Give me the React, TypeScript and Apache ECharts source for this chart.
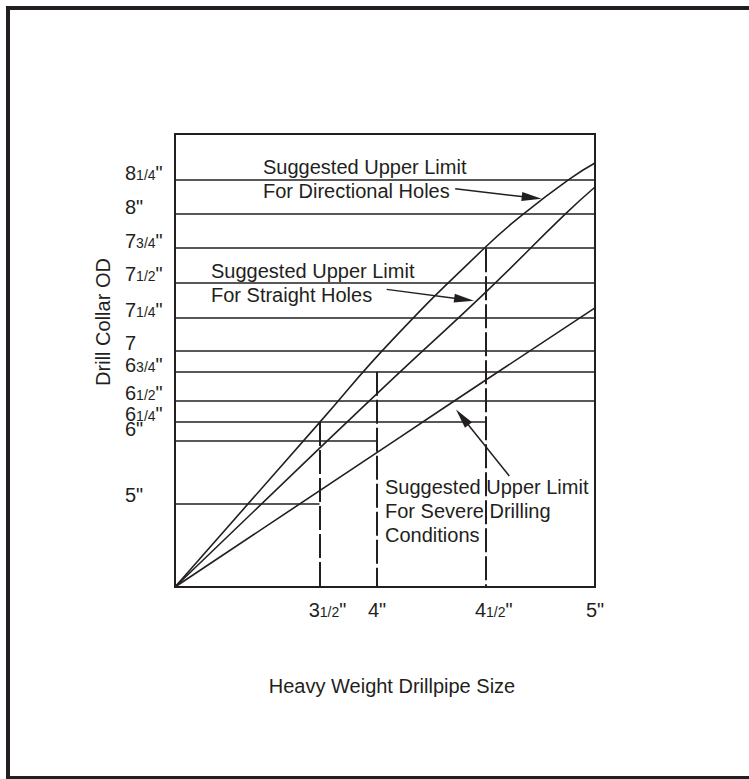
import React, { useEffect, useRef } from 'react';
import * as echarts from 'echarts';

// Schematic chart: axis positions are given in percent of the axis length (0..100)
const xTickLabels = ['3 1/2"', '4"', '4 1/2"', '5"'];
const xTickValues = [34.4, 48.1, 74.0, 100];

const yLineLabels = ['8 1/4"', '8"', '7 3/4"', '7 1/2"', '7 1/4"', '7', '6 3/4"', '6 1/2"', '6 1/4"', '6"', '5"'];
const yLineValues = [89.8, 82.3, 74.8, 67.2, 59.5, 52.1, 47.5, 41.1, 36.4, 32.2, 18.3];
const yLineEnds = [100, 100, 100, 100, 100, 100, 100, 100, 74.0, 48.1, 34.4];
const yLabelValues = [91.5, 83.9, 76.4, 69.1, 61.1, 53.8, 49.1, 42.8, 38.3, 34.8, 20.3];

const dashX = [34.4, 48.1, 74.0];
const dashTop = [36.4, 47.5, 74.8];

const directionalX = [0, 34.5, 51.7, 74.0, 83.3, 94.0, 100];
const directionalY = [0, 36.4, 54.5, 75.1, 82.6, 90.1, 93.6];
const straightX = [0, 34.5, 53.6, 74.0, 92.9, 100];
const straightY = [0, 30.7, 47.5, 65.1, 82.3, 88.3];
const severeX = [0, 53.6, 74.0, 100];
const severeY = [0, 33.1, 45.7, 61.6];

const arrowFrom = [[66.7, 87.9], [50.4, 65.7], [79.6, 24.5]];
const arrowTo = [[87.3, 85.7], [71.2, 63.2], [66.9, 39.2]];

const noteTexts = [
  'Suggested Upper Limit\nFor Directional Holes',
  'Suggested Upper Limit\nFor Straight Holes',
  'Suggested Upper Limit\nFor Severe Drilling\nConditions',
];

const xTitle = 'Heavy Weight Drillpipe Size';
const yTitle = 'Drill Collar OD';

const INK = '#231f20';
const FONT = '"Liberation Sans", Arial, Helvetica, sans-serif';

function richLabel(label: string, spacer: boolean): string {
  const inch = label.endsWith('"');
  const core = inch ? label.slice(0, -1) : label;
  const [whole, frac] = core.split(' ');
  let s = '';
  if (spacer && frac) s += '{s|}';
  s += `{a|${whole}}`;
  if (frac) s += `{b|${frac}}`;
  if (inch) s += '{c|"}';
  return s;
}

const rich = {
  s: { width: 16, fontSize: 20, lineHeight: 18 },
  a: { fontSize: 20, lineHeight: 18, color: INK, fontFamily: FONT },
  b: { fontSize: 14, lineHeight: 18, verticalAlign: 'bottom', color: INK, fontFamily: FONT },
  c: { fontSize: 20, lineHeight: 18, color: INK, fontFamily: FONT },
};

const pair = (xs: number[], ys: number[]) => xs.map((x, i) => [x, ys[i]]);

export default function App() {
  const ref = useRef<HTMLDivElement>(null);
  useEffect(() => {
    if (!ref.current) return;
    const chart = echarts.init(ref.current, null, { renderer: 'svg' });
    const curveStyle = { color: INK, width: 1.6 };
    const option: any = {
      animation: false,
      backgroundColor: '#ffffff',
      grid: {
        left: 175, top: 134, width: 420, height: 453,
        show: true, borderColor: INK, borderWidth: 2, backgroundColor: 'transparent',
      },
      xAxis: {
        type: 'value', min: 0, max: 100,
        axisLine: { show: false }, axisTick: { show: false }, splitLine: { show: false },
        axisLabel: {
          customValues: xTickValues,
          margin: 14,
          formatter: (v: number) => {
            const i = xTickValues.findIndex((t) => Math.abs(t - v) < 0.01);
            return i < 0 ? '' : richLabel(xTickLabels[i], true);
          },
          rich,
        },
      },
      yAxis: {
        type: 'value', min: 0, max: 100,
        axisLine: { show: false }, axisTick: { show: false }, splitLine: { show: false },
        axisLabel: {
          customValues: yLabelValues,
          margin: 50,
          align: 'left',
          verticalAlign: 'middle',
          formatter: (v: number) => {
            const i = yLabelValues.findIndex((t) => Math.abs(t - v) < 0.01);
            return i < 0 ? '' : richLabel(yLineLabels[i], false);
          },
          rich,
        },
      },
      series: [
        {
          type: 'lines', coordinateSystem: 'cartesian2d', silent: true,
          symbol: 'none',
          lineStyle: { color: INK, width: 1.5, opacity: 1, curveness: 0 },
          data: yLineValues.map((v, i) => ({ coords: [[0, v], [yLineEnds[i], v]] })),
        },
        {
          type: 'lines', coordinateSystem: 'cartesian2d', silent: true,
          symbol: 'none',
          lineStyle: { color: INK, width: 2, opacity: 1, curveness: 0, type: [24, 4] },
          data: dashX.map((x, i) => ({ coords: [[x, dashTop[i]], [x, 0]] })),
        },
        { type: 'line', data: pair(directionalX, directionalY), smooth: 0.5, showSymbol: false, symbol: 'none', lineStyle: curveStyle, silent: true },
        { type: 'line', data: pair(straightX, straightY), smooth: 0.5, showSymbol: false, symbol: 'none', lineStyle: curveStyle, silent: true },
        { type: 'line', data: pair(severeX, severeY), smooth: 0.5, showSymbol: false, symbol: 'none', lineStyle: curveStyle, silent: true },
        {
          type: 'custom', silent: true,
          encode: { x: [0, 2], y: [1, 3] },
          data: arrowFrom.map((f, i) => [f[0], f[1], arrowTo[i][0], arrowTo[i][1]]),
          renderItem: (params: any, api: any) => {
            const p1 = api.coord([api.value(0), api.value(1)]);
            const p2 = api.coord([api.value(2), api.value(3)]);
            const dx = p2[0] - p1[0];
            const dy = p2[1] - p1[1];
            const len = Math.hypot(dx, dy);
            const ux = dx / len, uy = dy / len;
            const hl = 20, hw = 4.5;
            const bx = p2[0] - ux * hl, by = p2[1] - uy * hl;
            return {
              type: 'group',
              children: [
                { type: 'line', shape: { x1: p1[0], y1: p1[1], x2: bx + ux * 2, y2: by + uy * 2 }, style: { stroke: INK, lineWidth: 1.5 } },
                { type: 'polygon', shape: { points: [[p2[0], p2[1]], [bx - uy * hw, by + ux * hw], [bx + uy * hw, by - ux * hw]] }, style: { fill: INK } },
              ],
            };
          },
        },
      ],
      graphic: [
        { type: 'rect', shape: { x: 8, y: 8, width: 760, height: 770 }, style: { fill: 'none', stroke: INK, lineWidth: 4 }, silent: true },
        { type: 'text', x: 263, y: 155, style: { text: noteTexts[0], font: `20px ${FONT}`, fill: INK, lineHeight: 24, verticalAlign: 'top' } },
        { type: 'text', x: 211, y: 259, style: { text: noteTexts[1], font: `20px ${FONT}`, fill: INK, lineHeight: 24, verticalAlign: 'top' } },
        { type: 'text', x: 385, y: 475, style: { text: noteTexts[2], font: `20px ${FONT}`, fill: INK, lineHeight: 24, verticalAlign: 'top' } },
        { type: 'text', x: 392, y: 686, style: { text: xTitle, font: `20px ${FONT}`, fill: INK, align: 'center', verticalAlign: 'middle' } },
        { type: 'text', x: 103, y: 322, rotation: Math.PI / 2, style: { text: yTitle, font: `20px ${FONT}`, fill: INK, align: 'center', verticalAlign: 'middle' } },
      ],
    };
    chart.setOption(option);
    return () => chart.dispose();
  }, []);
  return <div ref={ref} style={{ position: 'absolute', left: 0, top: 0, width: 749, height: 779 }} />;
}
